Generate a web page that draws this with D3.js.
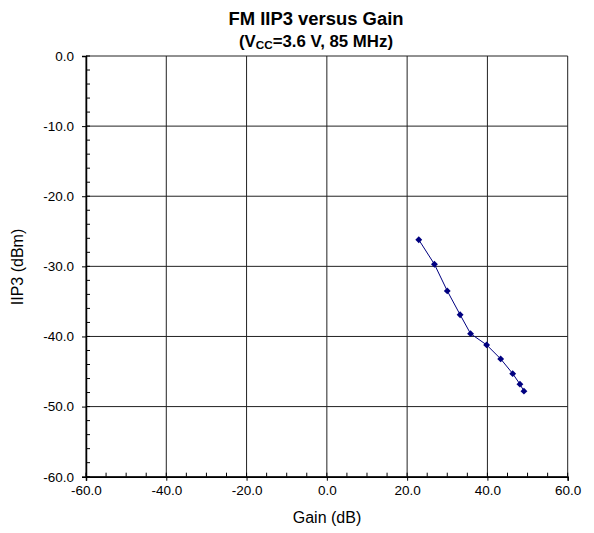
<!DOCTYPE html>
<html><head><meta charset="utf-8">
<script src="https://cdn.jsdelivr.net/npm/d3@7"></script>
<style>body{margin:0;background:#fff;} text{font-family:Arial,"Liberation Sans",sans-serif;}</style>
</head><body>
<svg id="c" width="594" height="533"></svg>
<script>
const gain = [22.9, 26.8, 30.0, 33.2, 35.8, 39.8, 43.3, 46.3, 48.1, 49.1];
const iip3 = [-26.2, -29.7, -33.5, -36.9, -39.6, -41.2, -43.2, -45.3, -46.8, -47.8];
const xTicks = [-60, -40, -20, 0, 20, 40, 60];
const yTicks = [0, -10, -20, -30, -40, -50, -60];

const svg = d3.select("#c");
const L = 86, R = 567.7, T = 56, B = 476.7;
const x = d3.scaleLinear().domain([-60, 60]).range([L, R]);
const y = d3.scaleLinear().domain([-60, 0]).range([B, T]);
const fmt = d => d.toFixed(1);

// grid
svg.append("g").selectAll("line").data(xTicks).join("line")
  .attr("x1", d => x(d)).attr("x2", d => x(d)).attr("y1", T).attr("y2", B)
  .attr("stroke", "#222").attr("stroke-width", 1);
svg.append("g").selectAll("line").data(yTicks).join("line")
  .attr("y1", d => y(d)).attr("y2", d => y(d)).attr("x1", L).attr("x2", R)
  .attr("stroke", "#222").attr("stroke-width", 1);

// minor ticks
const xMinor = d3.range(-60, 60.01, 5);
svg.append("g").selectAll("line").data(xMinor).join("line")
  .attr("x1", d => x(d)).attr("x2", d => x(d)).attr("y1", B).attr("y2", B - 4)
  .attr("stroke", "#000");
const yMinor = d3.range(-60, 0.01, 2);
svg.append("g").selectAll("line").data(yMinor).join("line")
  .attr("y1", d => y(d)).attr("y2", d => y(d)).attr("x1", L).attr("x2", L + 4)
  .attr("stroke", "#000");

// axes
const xAxis = svg.append("g").attr("transform", `translate(0,${B})`)
  .call(d3.axisBottom(x).tickValues(xTicks).tickFormat(fmt).tickSize(4).tickPadding(5));
const yAxis = svg.append("g").attr("transform", `translate(${L},0)`)
  .call(d3.axisLeft(y).tickValues(yTicks).tickFormat(fmt).tickSize(4).tickPadding(8));
[xAxis, yAxis].forEach(a => {
  a.select(".domain").attr("stroke", "#000").attr("stroke-width", 1.5);
  a.selectAll("text").attr("font-size", 13.5).attr("font-family", "Arial, 'Liberation Sans', sans-serif").attr("fill", "#000");
});

// data line
const pts = gain.map((g, i) => [g, iip3[i]]);
svg.append("path").datum(pts)
  .attr("d", d3.line().x(d => x(d[0])).y(d => y(d[1])))
  .attr("fill", "none").attr("stroke", "#000080").attr("stroke-width", 1);
svg.append("g").selectAll("path").data(pts).join("path")
  .attr("transform", d => `translate(${x(d[0])},${y(d[1])})`)
  .attr("d", d3.symbol(d3.symbolDiamond2, 30))
  .attr("fill", "#000080");

// titles
svg.append("text").attr("x", 316).attr("y", 25).attr("text-anchor", "middle")
  .attr("font-size", 18).attr("font-weight", "bold")
  .attr("textLength", 175).attr("lengthAdjust", "spacingAndGlyphs")
  .text("FM IIP3 versus Gain");
const sub = svg.append("text").attr("x", 316).attr("y", 47).attr("text-anchor", "middle")
  .attr("font-size", 16.5).attr("font-weight", "bold")
  .attr("textLength", 154).attr("lengthAdjust", "spacingAndGlyphs");
sub.append("tspan").text("(V");
sub.append("tspan").attr("font-size", 11.5).attr("dy", 2).text("CC");
sub.append("tspan").attr("dy", -2).text("=3.6 V, 85 MHz)");

svg.append("text").attr("x", 327).attr("y", 523).attr("text-anchor", "middle")
  .attr("font-size", 16).text("Gain (dB)");
svg.append("text").attr("transform", "translate(23,267) rotate(-90)").attr("text-anchor", "middle")
  .attr("font-size", 16).text("IIP3 (dBm)");
</script>
</body></html>
